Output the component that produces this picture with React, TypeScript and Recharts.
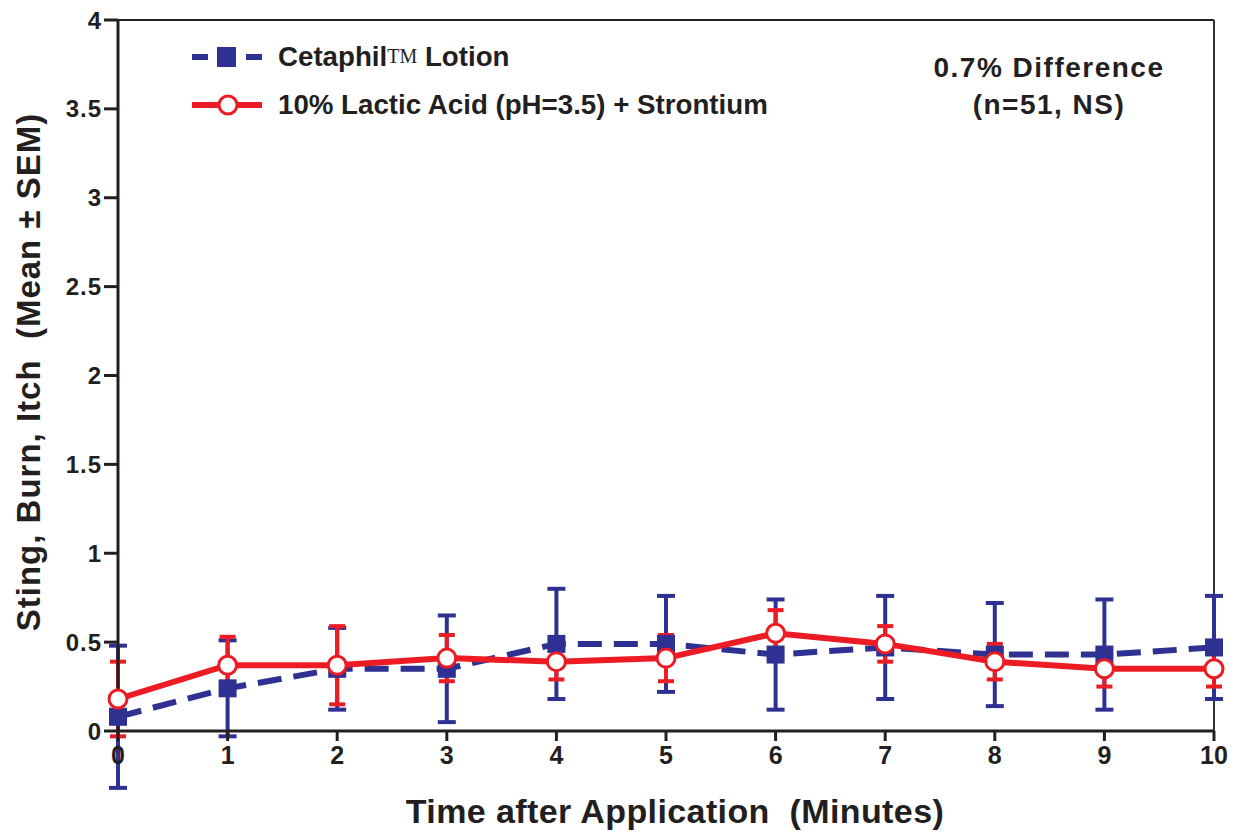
import React from 'react';
import { LineChart, Line, XAxis, YAxis, ErrorBar, ReferenceLine, Legend } from 'recharts';

const minutes = [0, 1, 2, 3, 4, 5, 6, 7, 8, 9, 10];
const cetaphilMean = [0.08, 0.24, 0.35, 0.35, 0.49, 0.49, 0.43, 0.47, 0.43, 0.43, 0.47];
const cetaphilSem = [0.4, 0.27, 0.23, 0.3, 0.31, 0.27, 0.31, 0.29, 0.29, 0.31, 0.29];
const lacticMean = [0.18, 0.37, 0.37, 0.41, 0.39, 0.41, 0.55, 0.49, 0.39, 0.35, 0.35];
const lacticSem = [0.21, 0.16, 0.22, 0.13, 0.1, 0.13, 0.13, 0.1, 0.1, 0.1, 0.1];
const yTicks = [0, 0.5, 1, 1.5, 2, 2.5, 3, 3.5, 4];

const seriesNames = ['Cetaphil\u2122 Lotion', '10% Lactic Acid (pH=3.5) + Strontium'];
const annotation = ['0.7% Difference', '(n=51, NS)'];
const xTitle = 'Time after Application\u00A0 (Minutes)';
const yTitle = 'Sting, Burn, Itch\u00A0 (Mean \u00B1 SEM)';

const BLUE = '#2e3192';
const RED = '#ed1c24';
const INK = '#231f20';
const FONT = '"Liberation Sans", Arial, Helvetica, sans-serif';

const data = minutes.map((m, i) => ({
  minute: m,
  cetaphil: cetaphilMean[i],
  cetaphilErr: cetaphilSem[i],
  lactic: lacticMean[i],
  lacticErr: lacticSem[i],
}));

const SquareDot = (props: any) => {
  const { cx, cy } = props;
  if (cx == null || cy == null) return null;
  return <rect x={cx - 9} y={cy - 9} width={18} height={18} fill={BLUE} />;
};

const CircleDot = (props: any) => {
  const { cx, cy } = props;
  if (cx == null || cy == null) return null;
  return <circle cx={cx} cy={cy} r={9} fill="#fff" stroke={RED} strokeWidth={3} />;
};

const LegendContent = () => (
  <div style={{ fontFamily: FONT, fontWeight: 'bold', fontSize: 27.7, color: INK }}>
    <div style={{ display: 'flex', alignItems: 'center', height: 48 }}>
      <svg width={86} height={24}>
        <line x1={0} y1={12} x2={16} y2={12} stroke={BLUE} strokeWidth={6} />
        <rect x={25} y={2} width={19} height={20} fill={BLUE} />
        <line x1={54} y1={12} x2={70} y2={12} stroke={BLUE} strokeWidth={6} />
      </svg>
      <span>
        Cetaphil
        <span
          style={{
            fontFamily: '"Liberation Serif", serif',
            fontWeight: 'normal',
            fontSize: 20,
            position: 'relative',
            top: -3,
          }}
        >
          TM
        </span>{' '}
        Lotion
      </span>
    </div>
    <div style={{ display: 'flex', alignItems: 'center', height: 48 }}>
      <svg width={86} height={24}>
        <line x1={0} y1={12} x2={70} y2={12} stroke={RED} strokeWidth={6} />
        <circle cx={36} cy={12} r={9} fill="#fff" stroke={RED} strokeWidth={3} />
      </svg>
      <span>{seriesNames[1]}</span>
    </div>
  </div>
);

const YTitle = () => (
  <text
    x={28}
    y={372}
    transform="rotate(-90 28 372)"
    textAnchor="middle"
    dominantBaseline="central"
    fontFamily={FONT}
    fontWeight="bold"
    fontSize={33}
    letterSpacing={1}
    fill={INK}
  >
    {yTitle}
  </text>
);

const XTitle = () => (
  <text
    x={675}
    y={823}
    textAnchor="middle"
    fontFamily={FONT}
    fontWeight="bold"
    fontSize={34}
    letterSpacing={0.4}
    fill={INK}
  >
    {xTitle}
  </text>
);

export default function App() {
  return (
    <div style={{ position: 'absolute', left: 0, top: 0, width: 1241, height: 833, background: '#fff' }}>
      <style>{`svg [clip-path] { clip-path: none !important; }`}</style>
      <LineChart width={1241} height={833} data={data} margin={{ top: 20, right: 27, left: 0, bottom: 0 }}>
        <XAxis
          dataKey="minute"
          type="number"
          domain={[0, 10]}
          ticks={minutes}
          height={102}
          axisLine={{ stroke: INK, strokeWidth: 3 }}
          tickLine={{ stroke: INK, strokeWidth: 3 }}
          tickSize={10}
          tickMargin={5}
          tick={{ fontSize: 25, fontWeight: 'bold', fill: INK, fontFamily: FONT }}
          label={{ content: () => <XTitle /> }}
        />
        <YAxis
          type="number"
          domain={[0, 4]}
          allowDataOverflow
          ticks={yTicks}
          width={118}
          axisLine={{ stroke: INK, strokeWidth: 3 }}
          tickLine={{ stroke: INK, strokeWidth: 3 }}
          tickSize={14}
          tickMargin={2}
          tick={{ fontSize: 24, fontWeight: 'bold', fill: INK, fontFamily: FONT, letterSpacing: 1 }}
          label={{ content: () => <YTitle /> }}
        />
        <ReferenceLine y={4} stroke={INK} strokeWidth={2} />
        <ReferenceLine x={10} stroke="#333" strokeWidth={2} />
        <Legend
          layout="vertical"
          align="center"
          verticalAlign="middle"
          content={() => <LegendContent />}
          wrapperStyle={{ position: 'absolute', left: 192, top: 33, width: 700 }}
        />
        <Line
          dataKey="cetaphil"
          name={seriesNames[0]}
          stroke={BLUE}
          strokeWidth={6}
          strokeDasharray="24 12"
          dot={<SquareDot />}
          activeDot={false}
          isAnimationActive={false}
        >
          <ErrorBar dataKey="cetaphilErr" direction="y" width={9} stroke={BLUE} strokeWidth={4} />
        </Line>
        <Line
          dataKey="lactic"
          name={seriesNames[1]}
          stroke={RED}
          strokeWidth={6}
          dot={<CircleDot />}
          activeDot={false}
          isAnimationActive={false}
        >
          <ErrorBar dataKey="lacticErr" direction="y" width={8} stroke={RED} strokeWidth={4} />
        </Line>
      </LineChart>
      <div
        style={{
          position: 'absolute',
          left: 899,
          top: 49,
          width: 300,
          textAlign: 'center',
          fontFamily: FONT,
          fontWeight: 'bold',
          fontSize: 28,
          letterSpacing: 1.5,
          lineHeight: '37px',
          color: INK,
        }}
      >
        <div>{annotation[0]}</div>
        <div>{annotation[1]}</div>
      </div>
    </div>
  );
}
